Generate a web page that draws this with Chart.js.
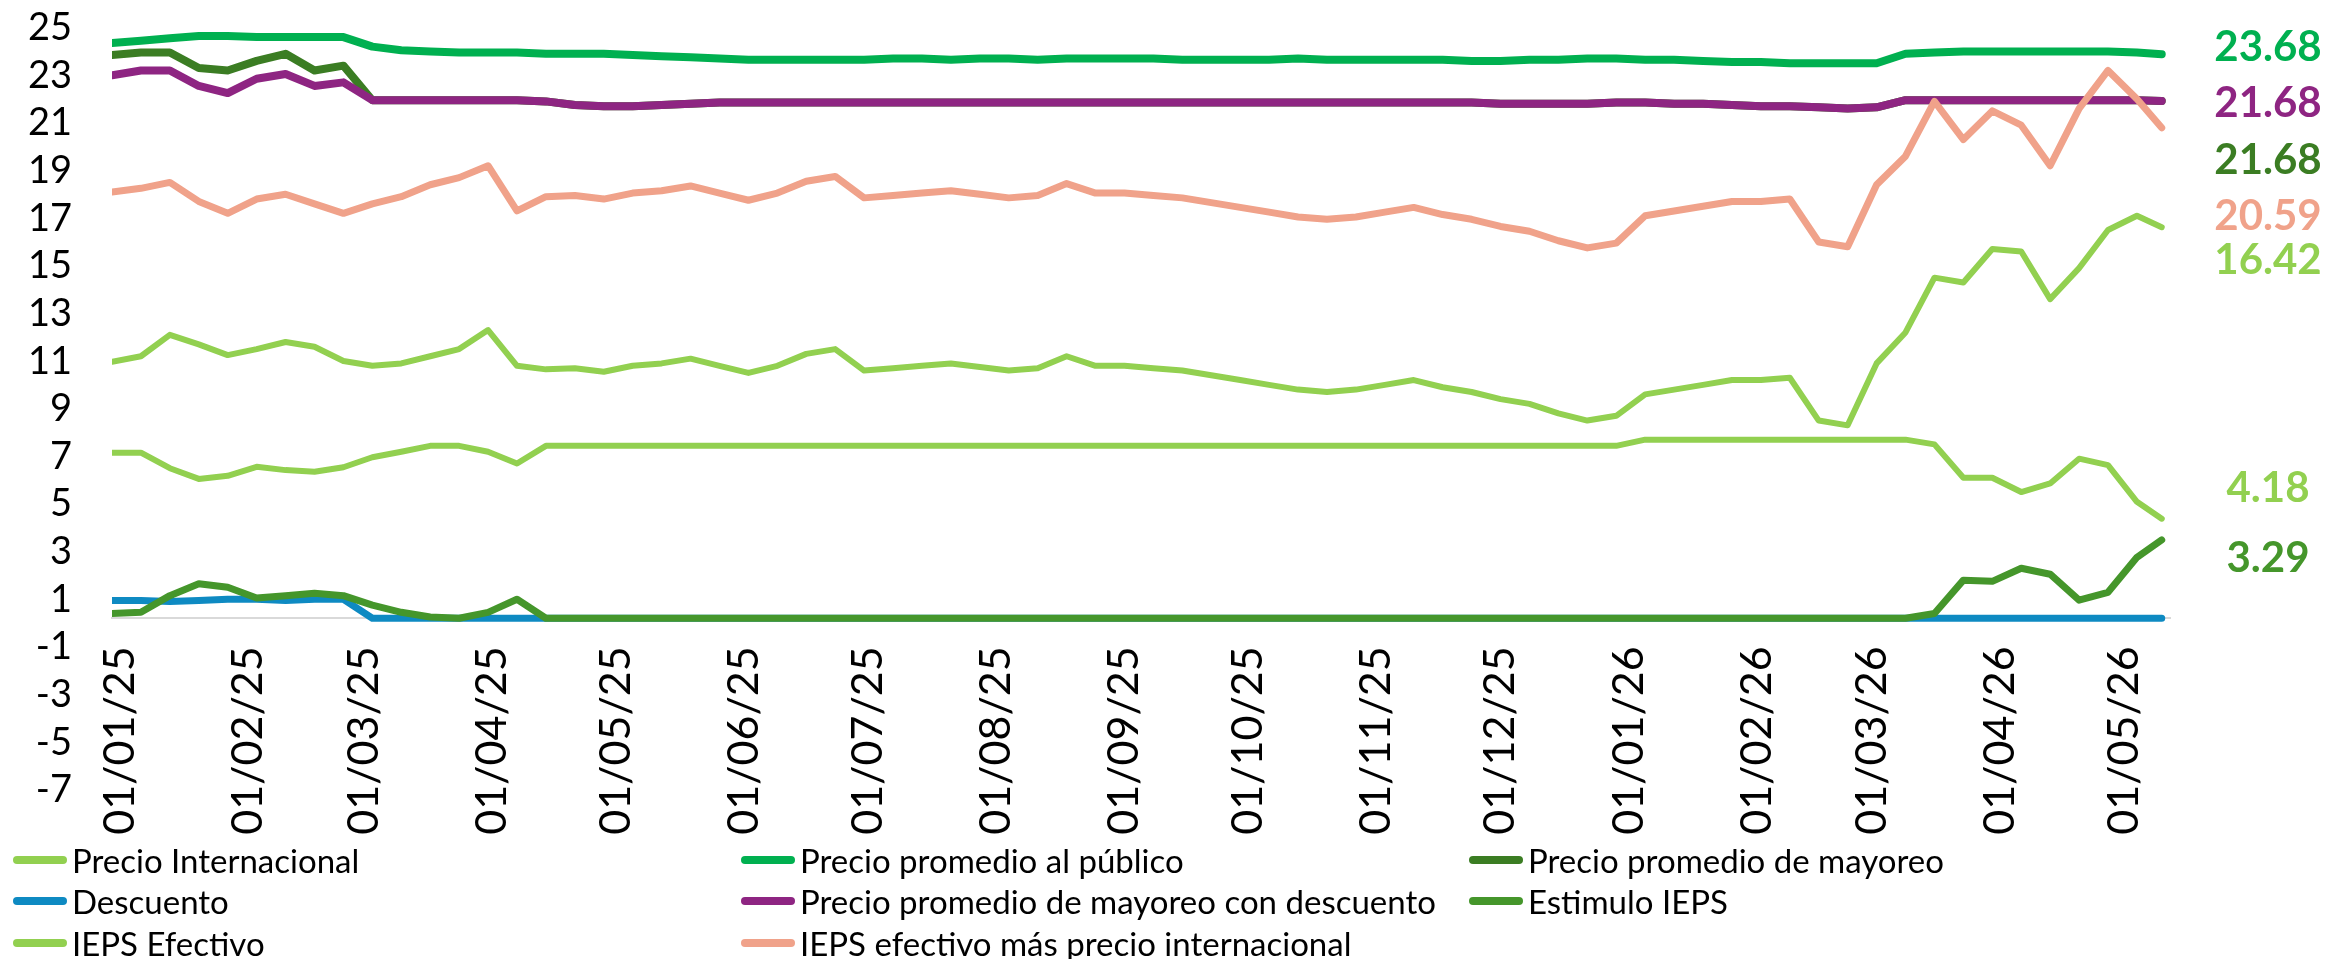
<!DOCTYPE html>
<html>
<head>
<meta charset="utf-8">
<script src="https://cdn.jsdelivr.net/npm/chart.js@4.4.1/dist/chart.umd.min.js"></script>
<style>
  html, body { margin: 0; padding: 0; background: #fff; }
  #wrap { position: relative; width: 2346px; height: 959px; }
  #legend .item { position: absolute; height: 40px; display: flex; align-items: center;
                  font-family: Lato, sans-serif; font-size: 33px; color: #000; white-space: nowrap; }
  #legend .swatch { width: 54px; height: 8px; border-radius: 4px; margin-right: 5px; flex: none; }
</style>
</head>
<body>
<div id="wrap">
  <canvas id="chart"></canvas>
  <div id="legend"></div>
</div>
<script>
/* ── Data (days counted from 01/01/25) ─────────────────── */

const days = [
  -2, 5, 12, 19, 26, 33, 40, 47, 54, 61,
  68, 75, 82, 89, 96, 103, 110, 117, 124, 131,
  138, 145, 152, 159, 166, 173, 180, 187, 194, 201,
  208, 215, 222, 229, 236, 243, 250, 257, 264, 271,
  278, 285, 292, 299, 306, 313, 320, 327, 334, 341,
  348, 355, 362, 369, 376, 383, 390, 397, 404, 411,
  418, 425, 432, 439, 446, 453, 460, 467, 474, 481,
  488, 494,
];

const tickDays   = [0, 31, 59, 90, 120, 151, 181, 212, 243, 273, 304, 334, 365, 396, 424, 455, 485];
const tickLabels = ['01/01/25','01/02/25','01/03/25','01/04/25','01/05/25','01/06/25','01/07/25','01/08/25',
                    '01/09/25','01/10/25','01/11/25','01/12/25','01/01/26','01/02/26','01/03/26','01/04/26','01/05/26'];

const precioInternacional = [
  10.77, 11.0, 11.9, 11.5, 11.05, 11.3, 11.6, 11.4, 10.8, 10.6,
  10.7, 11.0, 11.3, 12.1, 10.6, 10.45, 10.5, 10.35, 10.6, 10.7,
  10.9, 10.6, 10.3, 10.6, 11.1, 11.3, 10.4, 10.5, 10.6, 10.7,
  10.55, 10.4, 10.5, 11.0, 10.6, 10.6, 10.5, 10.4, 10.2, 10.0,
  9.8, 9.6, 9.5, 9.6, 9.8, 10.0, 9.7, 9.5, 9.2, 9.0,
  8.6, 8.3, 8.5, 9.4, 9.6, 9.8, 10.0, 10.0, 10.1, 8.3,
  8.1, 10.7, 12.0, 14.3, 14.1, 15.5, 15.4, 13.4, 14.7, 16.3,
  16.9, 16.42,
];

const precioPublico = [
  24.15, 24.25, 24.35, 24.45, 24.45, 24.4, 24.4, 24.4, 24.4, 24.0,
  23.85, 23.8, 23.75, 23.75, 23.75, 23.7, 23.7, 23.7, 23.65, 23.6,
  23.55, 23.5, 23.45, 23.45, 23.45, 23.45, 23.45, 23.5, 23.5, 23.45,
  23.5, 23.5, 23.45, 23.5, 23.5, 23.5, 23.5, 23.45, 23.45, 23.45,
  23.45, 23.5, 23.45, 23.45, 23.45, 23.45, 23.45, 23.4, 23.4, 23.45,
  23.45, 23.5, 23.5, 23.45, 23.45, 23.4, 23.35, 23.35, 23.3, 23.3,
  23.3, 23.3, 23.7, 23.75, 23.8, 23.8, 23.8, 23.8, 23.8, 23.8,
  23.75, 23.68,
];

const precioMayoreo = [
  23.65, 23.75, 23.75, 23.1, 23.0, 23.4, 23.7, 23.0, 23.2, 21.75,
  21.75, 21.75, 21.75, 21.75, 21.75, 21.7, 21.55, 21.5, 21.5, 21.55,
  21.6, 21.65, 21.65, 21.65, 21.65, 21.65, 21.65, 21.65, 21.65, 21.65,
  21.65, 21.65, 21.65, 21.65, 21.65, 21.65, 21.65, 21.65, 21.65, 21.65,
  21.65, 21.65, 21.65, 21.65, 21.65, 21.65, 21.65, 21.65, 21.6, 21.6,
  21.6, 21.6, 21.65, 21.65, 21.6, 21.6, 21.55, 21.5, 21.5, 21.45,
  21.4, 21.45, 21.75, 21.75, 21.75, 21.75, 21.75, 21.75, 21.75, 21.75,
  21.75, 21.72,
];

const descuento = [
  0.75, 0.75, 0.7, 0.75, 0.8, 0.8, 0.75, 0.8, 0.8, 0,
  0, 0, 0, 0, 0, 0, 0, 0, 0, 0,
  0, 0, 0, 0, 0, 0, 0, 0, 0, 0,
  0, 0, 0, 0, 0, 0, 0, 0, 0, 0,
  0, 0, 0, 0, 0, 0, 0, 0, 0, 0,
  0, 0, 0, 0, 0, 0, 0, 0, 0, 0,
  0, 0, 0, 0, 0, 0, 0, 0, 0, 0,
  0, 0,
];

const mayoreoConDescuento = [
  22.8, 23.0, 23.0, 22.35, 22.05, 22.65, 22.85, 22.35, 22.5, 21.75,
  21.75, 21.75, 21.75, 21.75, 21.75, 21.7, 21.55, 21.5, 21.5, 21.55,
  21.6, 21.65, 21.65, 21.65, 21.65, 21.65, 21.65, 21.65, 21.65, 21.65,
  21.65, 21.65, 21.65, 21.65, 21.65, 21.65, 21.65, 21.65, 21.65, 21.65,
  21.65, 21.65, 21.65, 21.65, 21.65, 21.65, 21.65, 21.65, 21.6, 21.6,
  21.6, 21.6, 21.65, 21.65, 21.6, 21.6, 21.55, 21.5, 21.5, 21.45,
  21.4, 21.45, 21.75, 21.75, 21.75, 21.75, 21.75, 21.75, 21.75, 21.75,
  21.75, 21.72,
];

const estimuloIeps = [
  0.2, 0.25, 0.95, 1.45, 1.3, 0.85, 0.95, 1.05, 0.95, 0.55,
  0.25, 0.05, 0, 0.25, 0.8, 0, 0, 0, 0, 0,
  0, 0, 0, 0, 0, 0, 0, 0, 0, 0,
  0, 0, 0, 0, 0, 0, 0, 0, 0, 0,
  0, 0, 0, 0, 0, 0, 0, 0, 0, 0,
  0, 0, 0, 0, 0, 0, 0, 0, 0, 0,
  0, 0, 0, 0.2, 1.6, 1.55, 2.1, 1.85, 0.76, 1.09,
  2.56, 3.29,
];

const iepsEfectivo = [
  6.95, 6.95, 6.3, 5.85, 5.98, 6.36, 6.22, 6.15, 6.34, 6.76,
  6.99, 7.24, 7.24, 6.99, 6.5, 7.24, 7.24, 7.24, 7.24, 7.24,
  7.24, 7.24, 7.24, 7.24, 7.24, 7.24, 7.24, 7.24, 7.24, 7.24,
  7.24, 7.24, 7.24, 7.24, 7.24, 7.24, 7.24, 7.24, 7.24, 7.24,
  7.24, 7.24, 7.24, 7.24, 7.24, 7.24, 7.24, 7.24, 7.24, 7.24,
  7.24, 7.24, 7.24, 7.5, 7.5, 7.5, 7.5, 7.5, 7.5, 7.5,
  7.5, 7.5, 7.5, 7.3, 5.9, 5.9, 5.3, 5.66, 6.7, 6.43,
  4.89, 4.18,
];

const iepsMasInternacional = [
  17.9, 18.05, 18.3, 17.5, 17.0, 17.6, 17.8, 17.4, 17.0, 17.4,
  17.7, 18.2, 18.5, 19.0, 17.1, 17.7, 17.75, 17.6, 17.85, 17.95,
  18.15, 17.85, 17.55, 17.85, 18.35, 18.55, 17.65, 17.75, 17.85, 17.95,
  17.8, 17.65, 17.75, 18.25, 17.85, 17.85, 17.75, 17.65, 17.45, 17.25,
  17.05, 16.85, 16.75, 16.85, 17.05, 17.25, 16.95, 16.75, 16.45, 16.25,
  15.85, 15.55, 15.75, 16.9, 17.1, 17.3, 17.5, 17.5, 17.6, 15.8,
  15.6, 18.2, 19.4, 21.7, 20.1, 21.3, 20.7, 19.0, 21.4, 23.0,
  21.8, 20.59,
];

// last-value labels shown to the right of the plot
const endLabels = ['23.68', '21.68', '21.68', '20.59', '16.42', '4.18', '3.29'];

/* ── Series styling ─────────────────────────────────────── */

const series = [
  ['Precio Internacional',                    precioInternacional,  '#92D050', 6],
  ['Precio promedio al público',              precioPublico,        '#00B050', 8],
  ['Precio promedio de mayoreo',              precioMayoreo,        '#3B7D23', 8],
  ['Descuento',                               descuento,            '#0E8AC2', 7],
  ['Precio promedio de mayoreo con descuento', mayoreoConDescuento, '#8E2582', 8],
  ['Estimulo IEPS',                           estimuloIeps,         '#45962B', 7],
  ['IEPS Efectivo',                           iepsEfectivo,         '#92D050', 6],
  ['IEPS efectivo más precio internacional',  iepsMasInternacional, '#F0A28A', 7],
];

const endLabelStyle = [
  ['#00B050', 23.95], ['#8E2582', 21.6], ['#3B7D23', 19.24], ['#F0A28A', 16.85],
  ['#92D050', 15.04], ['#92D050', 5.46], ['#45962B', 2.52],
];

/* ── Plugin: value labels on the right ──────────────────── */

const endLabelPlugin = {
  id: 'endLabels',
  afterDatasetsDraw(chart) {
    const { ctx, chartArea, scales } = chart;
    ctx.save();
    ctx.font = 'bold 42px Lato';
    ctx.textAlign = 'center';
    ctx.textBaseline = 'middle';
    endLabels.forEach((t, i) => {
      const [color, at] = endLabelStyle[i];
      ctx.fillStyle = color;
      ctx.fillText(t, chartArea.right + 98, scales.y.getPixelForValue(at));
    });
    ctx.restore();
  },
};

/* ── Chart ──────────────────────────────────────────────── */

Chart.defaults.font.family = 'Lato';
Chart.defaults.color = '#000';

new Chart(document.getElementById('chart'), {
  type: 'line',
  data: {
    datasets: series.map(([label, vals, color, w], i) => ({
      label,
      data: days.map((d, k) => ({ x: d, y: vals[k] })),
      borderColor: color,
      backgroundColor: color,
      borderWidth: w,
      pointRadius: 0,
      tension: 0,
      borderCapStyle: 'round',
      borderJoinStyle: 'round',
      order: series.length - i,
    })),
  },
  options: {
    responsive: true,
    maintainAspectRatio: false,
    animation: false,
    layout: { padding: { top: 0, right: 176, bottom: 174, left: 0 } },
    plugins: { legend: { display: false }, tooltip: { enabled: false } },
    scales: {
      x: {
        type: 'linear',
        min: -2,
        max: 496,
        position: { y: 0 },
        grid: { display: false, drawTicks: false },
        border: { display: true, color: '#D9D9D9', width: 2 },
        afterBuildTicks: (scale) => { scale.ticks = tickDays.map(v => ({ value: v })); },
        ticks: {
          autoSkip: false, maxRotation: 90, minRotation: 90, padding: 28,
          font: { size: 43 }, color: '#000',
          callback: (v) => tickLabels[tickDays.indexOf(v)],
        },
      },
      y: {
        min: -7,
        max: 25,
        // hidden tick marks give the label gap without padding the top
        grid: { display: false, drawTicks: true, tickLength: 40 },
        border: { display: false },
        afterFit: (scale) => { scale.width = 112; },
        ticks: { stepSize: 2, padding: 0, labelOffset: 5, font: { size: 38 }, color: '#000' },
      },
    },
  },
  plugins: [endLabelPlugin],
});

/* ── Legend (three columns) ─────────────────────────────── */

const legendCols = [13, 741, 1469];
const legendRows = [860, 901, 943];
const legend = document.getElementById('legend');
series.forEach(([label, , color], i) => {
  const el = document.createElement('div');
  el.className = 'item';
  el.style.left = legendCols[i % 3] + 'px';
  el.style.top = (legendRows[Math.floor(i / 3)] - 20) + 'px';
  el.innerHTML = `<span class="swatch" style="background:${color}"></span><span>${label}</span>`;
  legend.appendChild(el);
});
</script>
</body>
</html>
